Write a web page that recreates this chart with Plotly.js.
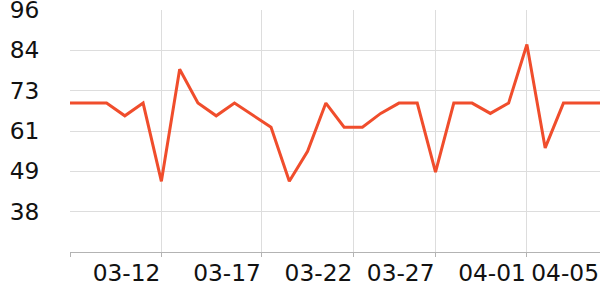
<!DOCTYPE html>
<html>
<head>
<meta charset="utf-8">
<script src="https://cdn.plot.ly/plotly-3.0.1.min.js"></script>
<style>html,body{margin:0;padding:0;background:#fff;}#chart{width:600px;height:300px;}</style>
</head>
<body>
<div id="chart"></div>
<script>
var dates = ['2024-03-07','2024-03-08','2024-03-09','2024-03-10','2024-03-11','2024-03-12','2024-03-13','2024-03-14','2024-03-15','2024-03-16',
             '2024-03-17','2024-03-18','2024-03-19','2024-03-20','2024-03-21','2024-03-22','2024-03-23','2024-03-24','2024-03-25','2024-03-26',
             '2024-03-27','2024-03-28','2024-03-29','2024-03-30','2024-03-31','2024-04-01','2024-04-02','2024-04-03','2024-04-04','2024-04-05'];
var values = [69, 69, 69, 65.3, 69, 46.3, 78.8, 69, 65.3, 69,
              65.5, 62, 46.3, 55, 69, 62, 62, 66, 69, 69,
              49, 69, 69, 66, 69, 86, 56, 69, 69, 69];
var xTickVals = ['2024-03-07','2024-03-12','2024-03-17 12:00','2024-03-22 12:00','2024-03-27','2024-04-01','2024-04-05'];
var xTickText = ['', '03-12', '03-17', '03-22', '03-27', '04-01', '04-05'];
var yTickVals = [37.5, 49.2, 60.9, 72.6, 84.3, 96];
var yTickText = ['38', '49', '61', '73', '84', '96'];

var trace = {
  x: dates, y: values, type: 'scatter', mode: 'lines',
  line: {color: '#f04d2c', width: 3},
  hoverinfo: 'none'
};
var layout = {
  width: 600, height: 300,
  margin: {l: 70, r: 0, t: 10, b: 48, pad: 0},
  paper_bgcolor: '#ffffff', plot_bgcolor: '#ffffff',
  showlegend: false,
  font: {family: 'DejaVu Sans', size: 23.3, color: '#111111'},
  xaxis: {
    type: 'date',
    range: ['2024-03-07', '2024-04-05'],
    tickmode: 'array', tickvals: xTickVals, ticktext: xTickText,
    tickangle: 0,
    showgrid: true, gridcolor: '#dddddd', gridwidth: 1,
    showline: true, linecolor: '#b3b3b3', linewidth: 1,
    ticks: 'outside', ticklen: 4, tickcolor: '#b3b3b3', tickwidth: 1,
    ticklabelposition: 'outside left',
    ticklabeloverflow: 'allow',
    zeroline: false, fixedrange: true
  },
  yaxis: {
    range: [25.8, 96],
    tickmode: 'array', tickvals: yTickVals, ticktext: yTickText,
    showgrid: true, gridcolor: '#dddddd', gridwidth: 1,
    showline: false,
    ticks: 'outside', ticklen: 25, tickcolor: 'rgba(0,0,0,0)', tickwidth: 1,
    ticklabeloverflow: 'allow',
    zeroline: false, fixedrange: true
  }
};
Plotly.newPlot('chart', [trace], layout, {displayModeBar: false, staticPlot: true});
</script>
</body>
</html>
